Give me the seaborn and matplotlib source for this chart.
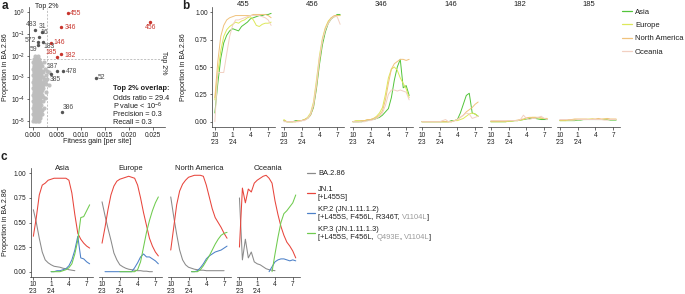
import matplotlib
matplotlib.use("Agg")
import numpy as np
import pandas as pd
import matplotlib.pyplot as plt
import matplotlib.ticker as mticker
import matplotlib.transforms as mtrans
from matplotlib.lines import Line2D
from matplotlib.text import Annotation
import seaborn as sns

nan = float("nan")

# ------------------------------------------------------------------ data
# shared time axis: months since October 2023
months = [0.0, 0.5, 1.0, 1.5, 2.0, 2.5, 3.0, 3.5, 4.0, 4.5,
          5.0, 5.5, 6.0, 6.5, 7.0, 7.5, 8.0, 8.5, 9.0, 9.5]
month_ticks = [0, 3, 6, 9]
month_labels = ["10\n'23", "1\n'24", "4", "7"]

# ---- panel a: background cloud (rows of equal log10 proportion, gains in 1e-3/site)
cloud_logp = [-5.00, -4.93, -4.85, -4.70, -4.63, -4.55, -4.40, -4.33, -4.25, -4.10,
              -4.03, -3.95, -3.80, -3.73, -3.65, -3.50, -3.43, -3.35, -3.20, -3.13,
              -3.05, -2.90, -2.83, -2.75, -2.60, -2.53, -2.45, -2.30, -2.15, -2.00,
              -4.78, -4.48, -4.18, -3.88, -3.58, -3.28, -2.98, -2.68, -2.38, -2.22]
cloud_gain_1e3 = [
    [0.0, 0.3, 0.6, 0.9, 1.2],
    [0.15, 0.45, 0.75, 1.05],
    [0.1, 0.4, 0.8, 1.1, 1.5],
    [0.0, 0.3, 0.6, 1.0, 1.3, 1.9],
    [0.05, 0.35, 0.65, 0.95, 1.15],
    [0.2, 0.5, 0.8, 1.2, 1.6],
    [0.0, 0.3, 0.7, 1.0, 1.4, 2.2],
    [0.15, 0.45, 0.85, 1.15],
    [0.1, 0.5, 0.9, 1.2, 1.7],
    [0.0, 0.3, 0.6, 1.0, 1.3, 2.0],
    [0.05, 0.4, 0.75, 1.2],
    [0.2, 0.5, 0.8, 1.1, 1.5, 2.4],
    [0.0, 0.3, 0.7, 1.0, 1.4, 1.8],
    [0.15, 0.5, 0.9, 1.25],
    [0.1, 0.4, 0.8, 1.2, 1.6, 2.6],
    [0.0, 0.3, 0.6, 0.9, 1.3, 1.7, 2.1],
    [0.05, 0.45, 0.75, 1.2],
    [0.2, 0.5, 0.8, 1.1, 1.5, 2.0, 3.2],
    [0.0, 0.3, 0.6, 1.0, 1.4, 1.8, 2.4],
    [0.15, 0.5, 0.85, 1.25],
    [0.1, 0.4, 0.7, 1.1, 1.5, 2.2, 2.9],
    [0.0, 0.3, 0.6, 0.9, 1.3, 1.7, 2.6],
    [0.1, 0.45, 0.8, 1.4],
    [0.2, 0.5, 0.8, 1.2, 1.6, 2.1, 3.3],
    [0.0, 0.4, 0.7, 1.1, 1.5, 2.4],
    [0.2, 0.6, 1.0],
    [0.1, 0.5, 0.9, 1.4, 1.9],
    [0.0, 0.3, 0.8, 1.3, 2.2],
    [0.2, 0.6, 1.1],
    [0.4, 1.0],
    [0.25, 0.55, 0.95, 1.35],
    [0.1, 0.6, 0.9, 1.3, 1.8],
    [0.25, 0.65, 1.1, 1.5],
    [0.1, 0.55, 0.95, 1.35, 2.1],
    [0.25, 0.65, 1.05, 1.45, 1.9],
    [0.1, 0.55, 0.95, 1.35, 1.75, 2.7],
    [0.25, 0.65, 1.0, 1.45, 1.95],
    [0.1, 0.55, 0.95, 1.35, 1.8, 2.8],
    [0.25, 0.7, 1.2, 1.6],
    [0.5, 0.9],
]

# labelled sites (grey) and top-2% overlap sites (red)
gray_sites = ['483', '31', '16', '572', '59', '183', '187', '478', '385', '52', '386']
gray_gain = [0.0003, 0.0018, 0.0011, 0.0009, 0.0010, 0.0021, 0.0050, 0.0063, 0.0038, 0.0131, 0.0061]
gray_prop = [0.15, 0.13, 0.075, 0.042, 0.030, 0.042, 0.0020, 0.0020, 0.0014, 0.00098, 0.000025]

red_sites = ['455', '456', '346', '146', '185', '182']
red_gain = [0.0072, 0.0245, 0.0059, 0.0037, 0.0050, 0.0059]
red_prop = [0.93, 0.37, 0.22, 0.040, 0.0085, 0.0116]

top2_gain = 0.0029
top2_prop = 0.0071
stats_lines = ["Odds ratio = 29.4", "P value < 10$^{-6}$", "Precision = 0.3", "Recall = 0.3"]

# ---- panel b: proportion of BA.2.86 carrying mutation at site, by region
b_sites = ['455', '456', '346', '146', '182', '185']
regions = ['Asia', 'Europe', 'North America', 'Oceania']

s455_asia = [0.08, 0.35, 0.58, 0.72, 0.79, 0.83, 0.85, 0.84, 0.83, 0.87, 0.89, 0.91, 0.94, 0.95, 0.96, 0.97, 0.97, 0.98, 0.98, 0.99]
s455_europe = [0.20, 0.45, 0.65, 0.78, 0.84, 0.87, 0.89, 0.91, 0.90, 0.92, 0.93, 0.95, 0.96, 0.93, 0.88, 0.87, 0.89, 0.90, 0.90, 0.91]
s455_namerica = [0.22, 0.55, 0.78, 0.88, 0.93, 0.95, 0.96, 0.97, 0.97, 0.97, 0.97, 0.97, 0.97, 0.98, 0.98, 0.98, 0.98, 0.98, 0.97, 0.95]
s455_oceania = [0.00, 0.45, 0.45, 0.45, 0.62, 0.78, 0.88, 0.93, 0.93, 0.94, 0.95, 0.96, 0.97, 0.97, 0.97, 0.97, 0.96, 0.95, 0.93, 0.88]

s456_asia = [0.01, 0.00, 0.00, 0.00, 0.01, 0.01, 0.01, 0.02, 0.03, 0.06, 0.13, 0.30, 0.52, 0.70, 0.82, 0.90, 0.94, 0.96, 0.98, 0.98]
s456_europe = [0.02, 0.00, 0.00, 0.00, 0.00, 0.01, 0.01, 0.02, 0.04, 0.08, 0.18, 0.38, 0.60, 0.76, 0.86, 0.92, 0.95, 0.96, 0.97, 0.97]
s456_namerica = [0.01, 0.00, 0.00, 0.00, 0.00, 0.01, 0.01, 0.02, 0.03, 0.06, 0.14, 0.32, 0.55, 0.74, 0.85, 0.91, 0.95, 0.97, 0.97, 0.97]
s456_oceania = [0.00, 0.00, 0.00, 0.00, 0.00, 0.00, 0.01, 0.01, 0.03, 0.07, 0.16, 0.35, 0.58, 0.74, 0.84, 0.90, 0.94, 0.96, 0.96, 0.89]

s346_asia = [0.00, 0.00, 0.00, 0.00, 0.01, 0.01, 0.02, 0.02, 0.03, 0.04, 0.06, 0.09, 0.12, 0.22, 0.38, 0.50, 0.57, 0.31, 0.33, 0.24]
s346_europe = [0.00, 0.01, 0.01, 0.01, 0.01, 0.02, 0.02, 0.03, 0.05, 0.08, 0.13, 0.25, 0.40, 0.48, 0.50, 0.47, 0.40, 0.35, 0.30, 0.22]
s346_namerica = [0.00, 0.00, 0.00, 0.01, 0.01, 0.02, 0.02, 0.03, 0.04, 0.06, 0.10, 0.20, 0.35, 0.48, 0.53, 0.55, 0.57, 0.57, 0.56, 0.57]
s346_oceania = [0.00, 0.00, 0.00, 0.00, 0.00, 0.01, 0.01, 0.02, 0.03, 0.05, 0.08, 0.15, 0.25, 0.29, 0.29, 0.28, 0.29, 0.28, 0.27, 0.20]

s146_asia = [0.00, 0.00, 0.00, 0.00, 0.00, 0.00, 0.00, 0.00, 0.00, 0.00, 0.01, 0.01, 0.02, 0.08, 0.16, 0.24, 0.26, 0.08, 0.07, 0.05]
s146_europe = [0.00, 0.00, 0.00, 0.00, 0.00, 0.00, 0.00, 0.00, 0.00, 0.00, 0.00, 0.01, 0.01, 0.02, 0.03, 0.05, 0.07, 0.08, 0.07, 0.05]
s146_namerica = [0.00, 0.00, 0.00, 0.00, 0.00, 0.00, 0.00, 0.00, 0.00, 0.00, 0.00, 0.01, 0.02, 0.04, 0.06, 0.09, 0.11, 0.13, 0.16, 0.18]
s146_oceania = [0.00, 0.00, 0.00, 0.00, 0.00, 0.00, 0.00, 0.01, 0.02, 0.00, 0.00, 0.01, 0.02, 0.04, 0.06, 0.08, 0.07, 0.03, 0.04, 0.05]

s182_asia = [0.00, 0.00, 0.00, 0.00, 0.00, 0.00, 0.005, 0.005, 0.01, 0.01, 0.015, 0.02, 0.025, 0.03, 0.03, 0.03, 0.025, 0.02, 0.02, 0.02]
s182_europe = [0.00, 0.00, 0.00, 0.00, 0.00, 0.00, 0.005, 0.005, 0.01, 0.01, 0.015, 0.02, 0.03, 0.035, 0.04, 0.04, 0.035, 0.03, 0.03, 0.03]
s182_namerica = [0.005, 0.005, 0.005, 0.005, 0.005, 0.005, 0.01, 0.01, 0.01, 0.015, 0.02, 0.025, 0.035, 0.04, 0.04, 0.04, 0.04, 0.035, 0.03, 0.03]
s182_oceania = [0.01, 0.01, 0.01, 0.01, 0.01, 0.01, 0.01, 0.01, 0.01, 0.01, 0.02, 0.06, 0.03, 0.02, 0.03, 0.03, 0.04, 0.05, 0.03, 0.02]

s185_asia = [0.01, 0.01, 0.01, 0.01, 0.01, 0.01, 0.015, 0.015, 0.02, 0.02, 0.02, 0.02, 0.02, 0.02, 0.02, 0.02, 0.02, 0.015, 0.015, 0.015]
s185_europe = [0.01, 0.01, 0.01, 0.015, 0.015, 0.02, 0.02, 0.02, 0.02, 0.02, 0.025, 0.025, 0.02, 0.02, 0.02, 0.025, 0.025, 0.02, 0.02, 0.02]
s185_namerica = [0.015, 0.015, 0.015, 0.02, 0.02, 0.025, 0.025, 0.025, 0.025, 0.025, 0.02, 0.025, 0.025, 0.03, 0.025, 0.025, 0.03, 0.025, 0.025, 0.025]
s185_oceania = [0.02, 0.02, 0.02, 0.015, 0.015, 0.015, 0.02, 0.02, 0.02, 0.02, 0.02, 0.02, 0.02, 0.02, 0.02, 0.015, 0.015, 0.02, 0.02, 0.02]

# ---- panel c: lineage proportions within BA.2.86, by region
variants = ['BA.2.86', 'JN.1', 'KP.2', 'KP.3']

c_asia_ba286 = [0.63, 0.50, 0.34, 0.20, 0.12, 0.09, 0.07, 0.055, 0.05, 0.045, 0.035, 0.03, 0.02, 0.015, 0.01, nan, nan, nan, nan, nan]
c_asia_jn1 = [0.36, 0.55, 0.78, 0.88, 0.90, 0.93, 0.94, 0.95, 0.95, 0.95, 0.95, 0.95, 0.93, 0.80, 0.58, 0.39, 0.33, 0.29, 0.26, 0.24]
c_asia_kp2 = [nan, nan, nan, nan, nan, nan, 0.0, 0.0, 0.01, 0.01, 0.02, 0.03, 0.06, 0.12, 0.22, 0.36, 0.14, 0.13, 0.10, 0.08]
c_asia_kp3 = [nan, nan, nan, nan, nan, nan, 0.0, 0.0, 0.0, 0.0, 0.01, 0.02, 0.04, 0.08, 0.18, 0.32, 0.55, 0.56, 0.62, 0.68]

c_europe_ba286 = [0.71, 0.57, 0.44, 0.32, 0.19, 0.12, 0.07, 0.05, 0.035, 0.025, 0.02, 0.015, 0.01, 0.01, 0.005, 0.005, 0.0, 0.0, nan, nan]
c_europe_jn1 = [0.29, 0.45, 0.63, 0.78, 0.87, 0.92, 0.94, 0.95, 0.96, 0.97, 0.96, 0.95, 0.88, 0.75, 0.60, 0.47, 0.34, 0.26, 0.20, 0.16]
c_europe_kp2 = [nan, 0.0, 0.0, 0.0, 0.0, 0.0, 0.0, 0.0, 0.0, 0.0, 0.0, 0.04, 0.09, 0.15, 0.18, 0.15, 0.15, 0.13, 0.11, 0.08]
c_europe_kp3 = [nan, nan, nan, nan, nan, nan, 0.0, 0.0, 0.0, 0.0, 0.0, 0.0, 0.02, 0.10, 0.25, 0.40, 0.52, 0.62, 0.70, 0.76]

c_namerica_ba286 = [0.76, 0.56, 0.38, 0.22, 0.12, 0.07, 0.045, 0.035, 0.025, 0.02, 0.015, 0.015, 0.01, 0.01, 0.01, 0.01, 0.01, 0.01, 0.01, nan]
c_namerica_jn1 = [0.22, 0.45, 0.68, 0.82, 0.89, 0.93, 0.96, 0.97, 0.98, 0.98, 0.98, 0.97, 0.88, 0.76, 0.64, 0.55, 0.50, 0.45, 0.39, 0.34]
c_namerica_kp2 = [nan, nan, nan, nan, nan, nan, nan, 0.0, 0.0, 0.01, 0.04, 0.08, 0.13, 0.16, 0.18, 0.20, 0.21, 0.22, 0.24, 0.26]
c_namerica_kp3 = [nan, nan, nan, nan, nan, nan, nan, 0.0, 0.0, 0.0, 0.02, 0.06, 0.11, 0.16, 0.22, 0.28, 0.33, 0.37, 0.39, 0.40]

c_oceania_ba286 = [0.75, 0.12, 0.33, 0.14, 0.20, 0.10, 0.08, 0.07, 0.05, 0.03, 0.02, 0.015, 0.01, nan, nan, nan, nan, nan, nan, nan]
c_oceania_jn1 = [0.25, 0.85, 0.70, 0.84, 0.81, 0.90, 0.93, 0.95, 0.97, 0.98, 0.95, 0.90, 0.72, 0.58, 0.46, 0.37, 0.30, 0.26, 0.21, 0.14]
c_oceania_kp2 = [nan, nan, nan, nan, nan, nan, nan, nan, nan, nan, 0.0, 0.05, 0.10, 0.12, 0.13, 0.13, 0.12, 0.11, 0.12, 0.11]
c_oceania_kp3 = [nan, nan, nan, nan, nan, nan, nan, nan, nan, nan, nan, 0.0, 0.18, 0.35, 0.50, 0.59, 0.62, 0.66, 0.70, 0.78]

# ------------------------------------------------------------------ tables
cloud_df = pd.DataFrame(
    [(g * 1e-3, 10 ** lp) for lp, row in zip(cloud_logp, cloud_gain_1e3) for g in row],
    columns=['gain', 'prop'])
gray_df = pd.DataFrame({'site': gray_sites, 'gain': gray_gain, 'prop': gray_prop})
red_df = pd.DataFrame({'site': red_sites, 'gain': red_gain, 'prop': red_prop})

b_series = {
    '455': [s455_asia, s455_europe, s455_namerica, s455_oceania],
    '456': [s456_asia, s456_europe, s456_namerica, s456_oceania],
    '346': [s346_asia, s346_europe, s346_namerica, s346_oceania],
    '146': [s146_asia, s146_europe, s146_namerica, s146_oceania],
    '182': [s182_asia, s182_europe, s182_namerica, s182_oceania],
    '185': [s185_asia, s185_europe, s185_namerica, s185_oceania],
}
b_df = pd.DataFrame([(site, reg, m, v)
                     for site in b_sites
                     for reg, vals in zip(regions, b_series[site])
                     for m, v in zip(months, vals)],
                    columns=['site', 'region', 'month', 'prop']).dropna()

c_series = {
    'Asia': [c_asia_ba286, c_asia_jn1, c_asia_kp2, c_asia_kp3],
    'Europe': [c_europe_ba286, c_europe_jn1, c_europe_kp2, c_europe_kp3],
    'North America': [c_namerica_ba286, c_namerica_jn1, c_namerica_kp2, c_namerica_kp3],
    'Oceania': [c_oceania_ba286, c_oceania_jn1, c_oceania_kp2, c_oceania_kp3],
}
c_df = pd.DataFrame([(reg, var, m, v)
                     for reg in regions
                     for var, vals in zip(variants, c_series[reg])
                     for m, v in zip(months, vals)],
                    columns=['region', 'variant', 'month', 'prop']).dropna()

# ------------------------------------------------------------------ style
sns.set_style('ticks')
TXT = '#1f1f1f'
AX = '#333333'
plt.rcParams.update({
    'font.family': ['Liberation Sans', 'DejaVu Sans'],
    'mathtext.fontset': 'custom',
    'mathtext.rm': 'Liberation Sans',
    'mathtext.it': 'Liberation Sans:italic',
    'mathtext.bf': 'Liberation Sans:bold',
    'axes.linewidth': 0.5,
    'axes.edgecolor': AX,
    'xtick.major.width': 0.5, 'ytick.major.width': 0.5,
    'xtick.major.size': 1.8, 'ytick.major.size': 1.8,
    'xtick.color': AX, 'ytick.color': AX,
    'xtick.labelcolor': TXT, 'ytick.labelcolor': TXT,
    'xtick.labelsize': 4.7, 'ytick.labelsize': 4.7,
    'xtick.major.pad': 1.5, 'ytick.major.pad': 1.2,
    'axes.labelsize': 5.1, 'axes.labelcolor': TXT,
    'text.color': TXT,
})

region_colors = {'Asia': '#52C43A', 'Europe': '#DDE85A',
                 'North America': '#F0C27C', 'Oceania': '#F2D0C2'}
variant_colors = {'BA.2.86': '#8A8A8A', 'JN.1': '#E8453C',
                  'KP.2': '#4C80C8', 'KP.3': '#6FCB4E'}
RED = '#C8342C'
GRAYPT = '#555555'
CLOUD = '#BDBDBD'

W, H = 685, 294
fig = plt.figure(figsize=(W / 100, H / 100), dpi=100)


def rect(l, t, r, b):
    return [l / W, 1 - b / H, (r - l) / W, (b - t) / H]


def fx(px):
    return px / W


def fy(py):
    return 1 - py / H


PT = 0.72  # points per pixel at 100 dpi

# ------------------------------------------------------------------ panel a
A_L, A_T, A_R, A_B = 29, 7.5, 164.6, 127.0
axa = fig.add_axes(rect(A_L, A_T, A_R, A_B))
sns.scatterplot(data=cloud_df, x='gain', y='prop', color=CLOUD, s=9, linewidth=0,
                alpha=0.95, ax=axa, zorder=2)
sns.scatterplot(data=gray_df, x='gain', y='prop', color=GRAYPT, s=6, linewidth=0, ax=axa, zorder=3)
sns.scatterplot(data=red_df, x='gain', y='prop', color=RED, s=6, linewidth=0, ax=axa, zorder=3)
axa.set_yscale('log')
axa.set_ylim(10 ** -5.28, 10 ** 0.22)
axa.set_xlim(-0.0009, 0.0275)
axa.yaxis.set_major_locator(mticker.FixedLocator([1, 1e-1, 1e-2, 1e-3, 1e-4, 1e-5]))
axa.yaxis.set_minor_locator(mticker.NullLocator())
axa.xaxis.set_major_locator(mticker.FixedLocator([0, 0.005, 0.010, 0.015, 0.020, 0.025]))
axa.xaxis.set_major_formatter(mticker.FormatStrFormatter('%.3f'))
axa.spines[['top', 'right']].set_visible(False)
axa.set_xlabel('Fitness gain [per site]')
axa.set_ylabel('Proportion in BA.2.86')
axa.xaxis.set_label_coords(0.5, (A_B - 138.5) / (A_B - A_T))
axa.yaxis.set_label_coords((8.8 - A_L) / (A_R - A_L), 0.5)

dash = (0, (3, 2))
axa.axvline(top2_gain, color='#AAAAAA', lw=0.5, ls=dash, zorder=1)
axa.axhline(top2_prop, color='#AAAAAA', lw=0.5, ls=dash, zorder=1)
trx = mtrans.blended_transform_factory(axa.transData, axa.transAxes)
axa.text(top2_gain, (A_B - 7) / (A_B - A_T), 'Top 2%', transform=trx, ha='center', va='center',
         fontsize=5.0, color=TXT, clip_on=False)
axa.text((163 - A_L) / (A_R - A_L), (A_B - 63) / (A_B - A_T), 'Top 2%', transform=axa.transAxes,
         ha='center', va='center', rotation=270, fontsize=5.0, color=TXT, clip_on=False)

gray_offsets = {'483': (-3, 2, 'center', 'bottom'), '31': (0.5, 2, 'center', 'bottom'),
                '16': (1.5, 1, 'left', 'bottom'), '572': (-2, 1.5, 'right', 'center'),
                '59': (-1, -1, 'right', 'top'), '183': (0.5, -4.6, 'left', 'center'),
                '187': (1, 1, 'right', 'bottom'), '478': (2, -0.5, 'left', 'center'),
                '385': (-1.5, -1.5, 'left', 'top'), '52': (2, 0.5, 'left', 'center'),
                '386': (0, 1.5, 'left', 'bottom')}
for s, g, p in zip(gray_sites, gray_gain, gray_prop):
    dx, dy, ha, va = gray_offsets[s]
    axa.annotate(s, (g, p), xytext=(dx * PT, dy * PT), textcoords='offset points',
                 ha=ha, va=va, fontsize=4.9, color='#4D4D4D', zorder=4)
red_offsets = {'455': (2.5, -1, 'left', 'center'), '456': (0, -2, 'center', 'top'),
               '346': (3, -1, 'left', 'center'), '146': (2.5, 0, 'left', 'center'),
               '185': (-0.5, 4.6, 'right', 'center'), '182': (2.5, -1.5, 'left', 'center')}
for s, g, p in zip(red_sites, red_gain, red_prop):
    dx, dy, ha, va = red_offsets[s]
    axa.annotate(s, (g, p), xytext=(dx * PT, dy * PT), textcoords='offset points',
                 ha=ha, va=va, fontsize=4.9, color=RED, zorder=4)

fig.text(fx(113), fy(89), 'Top 2% overlap:', fontsize=5.3, fontweight='bold', ha='left', va='center')
for k, line in enumerate(stats_lines):
    fig.text(fx(113), fy(98.8 + 7.8 * k), line, fontsize=5.3, ha='left', va='center')

# ------------------------------------------------------------------ panel b
B_T, B_B = 6.8, 127.2
for i, site in enumerate(b_sites):
    l = 212 + 69 * i
    ax = fig.add_axes(rect(l, B_T, l + 63, B_B))
    sns.lineplot(data=b_df[b_df['site'] == site], x='month', y='prop', hue='region',
                 hue_order=regions, palette=region_colors, estimator=None, errorbar=None,
                 lw=0.7, legend=False, ax=ax)
    ax.set_xlim(-0.48, 10.15)
    ax.set_ylim(-0.05, 1.05)
    ax.set_xticks(month_ticks)
    ax.set_xticklabels(month_labels, linespacing=0.95)
    ax.set_yticks([0, 0.25, 0.5, 0.75, 1.0])
    ax.yaxis.set_major_formatter(mticker.FormatStrFormatter('%.2f'))
    ax.spines[['top', 'right']].set_visible(False)
    ax.set_xlabel('')
    ax.set_ylabel('')
    ax.text(0.5, (B_B - 5) / (B_B - B_T), site, transform=ax.transAxes, ha='center',
            va='center', fontsize=5.5, color=TXT)
    if i == 0:
        ax.set_ylabel('Proportion in BA.2.86')
        ax.yaxis.set_label_coords((186.8 - l) / 63, 0.5)
    else:
        ax.spines['left'].set_visible(False)
        ax.tick_params(axis='y', left=False, labelleft=False)

b_handles = [Line2D([], [], color=region_colors[r], lw=0.9) for r in regions]
fig.legend(b_handles, regions, loc='upper left', bbox_to_anchor=(fx(621.5), fy(8.2)),
           frameon=False, fontsize=5.5, handlelength=1.31, handletextpad=0.45,
           labelspacing=0.8, borderpad=0, borderaxespad=0)

# ------------------------------------------------------------------ panel c
C_T, C_B = 168.4, 276.6
for i, reg in enumerate(regions):
    l = 30.5 + 68.7 * i
    ax = fig.add_axes(rect(l, C_T, l + 63, C_B))
    sns.lineplot(data=c_df[c_df['region'] == reg], x='month', y='prop', hue='variant',
                 hue_order=variants, palette=variant_colors, estimator=None, errorbar=None,
                 lw=0.75, legend=False, ax=ax)
    ax.set_xlim(-0.48, 10.15)
    ax.set_ylim(-0.05, 1.05)
    ax.set_xticks(month_ticks)
    ax.set_xticklabels(month_labels, linespacing=0.95)
    ax.set_yticks([0, 0.25, 0.5, 0.75, 1.0])
    ax.yaxis.set_major_formatter(mticker.FormatStrFormatter('%.2f'))
    ax.spines[['top', 'right']].set_visible(False)
    ax.set_xlabel('')
    ax.set_ylabel('')
    ax.text(0.5, 1.0, reg, transform=ax.transAxes, ha='center', va='center',
            fontsize=5.5, color=TXT)
    if i == 0:
        ax.set_ylabel('Proportion in BA.2.86')
        ax.yaxis.set_label_coords((8.8 - l) / 63, 0.5)
    else:
        ax.spines['left'].set_visible(False)
        ax.tick_params(axis='y', left=False, labelleft=False)

# legend for panel c (drawn by hand to allow partly grey labels)
LEG_FS = 5.4
GREYTXT = '#9A9A9A'
c_legend = [
    ('BA.2.86', []),
    ('JN.1', [('[+L455S]', TXT, 0)]),
    ('KP.2 (JN.1.11.1.2)', [('[+L455S, F456L, R346T,', TXT, 0), ('V1104L', GREYTXT, 1.8), (']', TXT, -0.7)]),
    ('KP.3 (JN.1.11.1.3)', [('[+L455S, F456L,', TXT, 0), ('Q493E', GREYTXT, 1.8), (',', TXT, -0.3),
                            ('V1104L', GREYTXT, 1.8), (']', TXT, -0.7)]),
]
for k, (var, (head, second)) in enumerate(zip(variants, c_legend)):
    hy = 173.3 + 19.8 * k
    fig.add_artist(Line2D([fx(306.7), fx(315)], [fy(hy), fy(hy)], transform=fig.transFigure,
                          color=variant_colors[var], lw=0.9))
    ty = hy if not second else hy - 3.2
    t = fig.text(fx(318), fy(ty), head, fontsize=LEG_FS, ha='left', va='center', color=TXT)
    prev = None
    for j, (s, col, gap) in enumerate(second):
        if j == 0:
            ann = Annotation(s, xy=(0, 0), xycoords=t, xytext=(0, -7.7 * PT),
                             textcoords='offset points', ha='left', va='bottom',
                             fontsize=LEG_FS, color=col, annotation_clip=False)
        else:
            ann = Annotation(s, xy=(1, 0), xycoords=prev, xytext=(gap, 0),
                             textcoords='offset points', ha='left', va='bottom',
                             fontsize=LEG_FS, color=col, annotation_clip=False)
        ann.set_zorder(10)
        fig.add_artist(ann)
        prev = ann

# ------------------------------------------------------------------ panel letters
fig.text(fx(1.5), fy(8.6), 'a', fontsize=8.5, fontweight='bold', va='baseline', ha='left')
fig.text(fx(182.5), fy(9.2), 'b', fontsize=8.5, fontweight='bold', va='baseline', ha='left')
fig.text(fx(0.5), fy(160.0), 'c', fontsize=8.5, fontweight='bold', va='baseline', ha='left')

fig.savefig('out.png', dpi=100)
